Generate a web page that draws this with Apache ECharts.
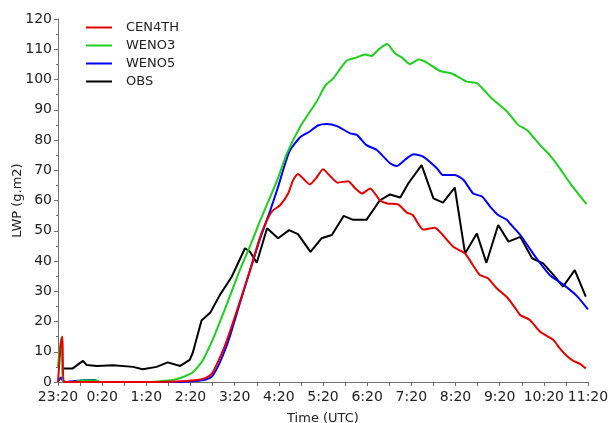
<!DOCTYPE html>
<html>
<head>
<meta charset="utf-8">
<script src="https://cdn.jsdelivr.net/npm/echarts@6/dist/echarts.min.js"></script>
<style>
  html, body { margin: 0; padding: 0; background: #fff; }
  #chart { width: 609px; height: 423px; }
</style>
</head>
<body>
<div id="chart"></div>
<script>
// time is minutes after 23:20 UTC, value is LWP
const seriesNames = ['CEN4TH', 'WENO3', 'WENO5', 'OBS'];
const seriesColors = ['#e60000', '#1ed01e', '#0000ff', '#000000'];

const cen4th = [
  [0, 0], [4, 13], [6, 15], [8, 0], [120, 0], [159, 0.2], [186, 0.6], [200, 1.3], [209, 2.8],
  [217, 6.5], [226, 11.5], [234, 17], [247, 26.5], [261, 37], [274, 47.5], [283, 53], [291, 56.5],
  [302, 58.5], [313, 62.5], [319, 66.5], [326, 68.8], [334, 67], [342, 65.3], [351, 67.5],
  [360, 70.3], [370, 68], [380, 65.9], [394, 66.4], [404, 64], [413, 62.3], [424, 64], [437, 60.2],
  [447, 59], [462, 58.7], [474, 56], [482, 55.2], [496, 50.4], [512, 51], [523, 48.5], [537, 44.7],
  [553, 42.5], [564, 38.5], [573, 35.4], [584, 34.3], [596, 31], [610, 28], [621, 24.5],
  [628, 22.1], [641, 20.5], [655, 16.6], [673, 13.9], [682, 11], [692, 8.4], [700, 7], [709, 6],
  [717, 4.5]
];

const weno3 = [
  [0, 5], [2, 10], [5, 15], [6, 3], [8, 0], [23, 0], [30, 0.5], [53, 0.5], [57, 0], [120, 0],
  [139, 0.3], [156, 0.7], [168, 1.5], [182, 3], [190, 5], [197, 7.3], [211, 14.5], [229, 25.5],
  [247, 37], [261, 45], [274, 53], [288, 61], [299, 67.5], [311, 75.6], [329, 84.4], [352, 93],
  [363, 98], [374, 100.4], [392, 106.2], [406, 107.3], [417, 108.3], [426, 107.8], [435, 109.8],
  [447, 111.7], [458, 108.6], [467, 107.3], [478, 105.1], [490, 106.6], [501, 105.6], [519, 102.8],
  [535, 102], [555, 99.3], [569, 98.8], [589, 93.8], [610, 89.4], [625, 85], [637, 83.3],
  [655, 78.3], [668, 75], [680, 71.2], [696, 65.6], [718, 58.8]
];

const weno5 = [
  [0, 0], [4, 1.5], [7, 0.3], [11, 0], [23, 0.3], [34, 0.6], [50, 0.7], [54, 0], [120, 0],
  [166, 0], [186, 0.3], [200, 0.7], [209, 1.8], [217, 5], [226, 10], [234, 15.5], [247, 26],
  [261, 37], [274, 47], [288, 56.5], [299, 64.5], [307, 71], [315, 76.5], [329, 80.9],
  [342, 82.8], [353, 84.8], [365, 85.3], [379, 84.6], [397, 82.2], [406, 81.7], [419, 78.3],
  [433, 76.7], [451, 72.3], [460, 71.4], [471, 73.4], [483, 75.3], [496, 74.5], [515, 70.6],
  [523, 68.4], [539, 68.4], [551, 66.8], [564, 62.3], [576, 61.3], [587, 58], [598, 55.2],
  [610, 53.6], [614, 52.4], [628, 48.6], [650, 40.9], [668, 35.4], [687, 32.1], [705, 28.4],
  [720, 24]
];

const obs = [
  [7, 4.5], [20, 4.5], [34, 7], [39, 5.6], [53, 5.3], [75, 5.5], [102, 5], [115, 4.2], [134, 5],
  [149, 6.5], [166, 5.3], [179, 7.3], [183, 9.6], [195, 20.3], [207, 23], [220, 28.8],
  [236, 34.8], [254, 44.2], [261, 43], [270, 39.4], [284, 50.8], [299, 47.5], [314, 50.2],
  [326, 48.9], [343, 43], [358, 47.5], [372, 48.6], [388, 54.9], [401, 53.6], [419, 53.6],
  [437, 60], [451, 62], [465, 61], [476, 65.7], [494, 71.7], [510, 60.7], [523, 59.3], [539, 64.3],
  [553, 42.5], [569, 49.1], [582, 39.4], [598, 51.9], [612, 46.4], [628, 48], [644, 40.9],
  [659, 39.2], [673, 35.4], [686, 31.5], [702, 37], [717, 28.2]
];

const seriesData = [cen4th, weno3, weno5, obs];

// x ticks every hour from 23:20 to 11:20, y ticks every 10
const xMin = 0, xMax = 720, xStep = 60;
const yMin = 0, yMax = 120, yStep = 10;
const startMinute = 23 * 60 + 20;

function timeLabel(v) {
  const t = startMinute + v;
  const h = Math.floor(t / 60) % 24;
  const m = t % 60;
  return h + ':' + (m < 10 ? '0' + m : m);
}

const font = 'DejaVu Sans';
const axisColor = '#707070';
// thin line legend icon, with empty room after it before the text
const lineIcon = 'path://M0,0 M0,4 L26,4 L26,6 L0,6 Z M35,10';

const chart = echarts.init(document.getElementById('chart'));
chart.setOption({
  animation: false,
  backgroundColor: '#fff',
  grid: { left: 58, right: 21, top: 19, bottom: 41, outerBoundsMode: 'none' },
  legend: {
    orient: 'vertical',
    left: 81,
    top: 16,
    icon: lineIcon,
    itemWidth: 35,
    itemHeight: 10,
    itemGap: 5,
    data: seriesNames,
    textStyle: { fontFamily: font, fontSize: 13, color: '#222' }
  },
  xAxis: {
    type: 'value',
    min: xMin, max: xMax, interval: xStep,
    name: 'Time (UTC)',
    nameLocation: 'middle',
    nameGap: 30,
    nameTextStyle: { fontFamily: font, fontSize: 13, color: '#222' },
    axisLine: { lineStyle: { color: axisColor } },
    axisTick: { show: true, length: 4, lineStyle: { color: axisColor } },
    minorTick: { show: true, splitNumber: 2, length: 4, lineStyle: { color: axisColor } },
    axisLabel: { formatter: timeLabel, fontFamily: font, fontSize: 14, color: '#222', margin: 8 },
    splitLine: { show: false }
  },
  yAxis: {
    type: 'value',
    min: yMin, max: yMax, interval: yStep,
    name: 'LWP (g.m2)',
    nameLocation: 'middle',
    nameGap: 34,
    nameMoveOverlap: false,
    nameRotate: 90,
    nameTextStyle: { fontFamily: font, fontSize: 13, color: '#222' },
    axisLine: { show: true, lineStyle: { color: axisColor } },
    axisTick: { show: true, length: 4, lineStyle: { color: axisColor } },
    minorTick: { show: true, splitNumber: 2, length: 2, lineStyle: { color: axisColor } },
    axisLabel: { fontFamily: font, fontSize: 14, color: '#222', margin: 6 },
    splitLine: { show: false }
  },
  series: seriesNames.map((name, i) => ({
    name: name,
    type: 'line',
    data: seriesData[i],
    symbol: 'none',
    smooth: i < 3 ? 0.2 : false,
    color: seriesColors[i],
    lineStyle: { width: 2, color: seriesColors[i] },
    z: i === 3 ? 1 : 4 - i
  }))
});
</script>
</body>
</html>
